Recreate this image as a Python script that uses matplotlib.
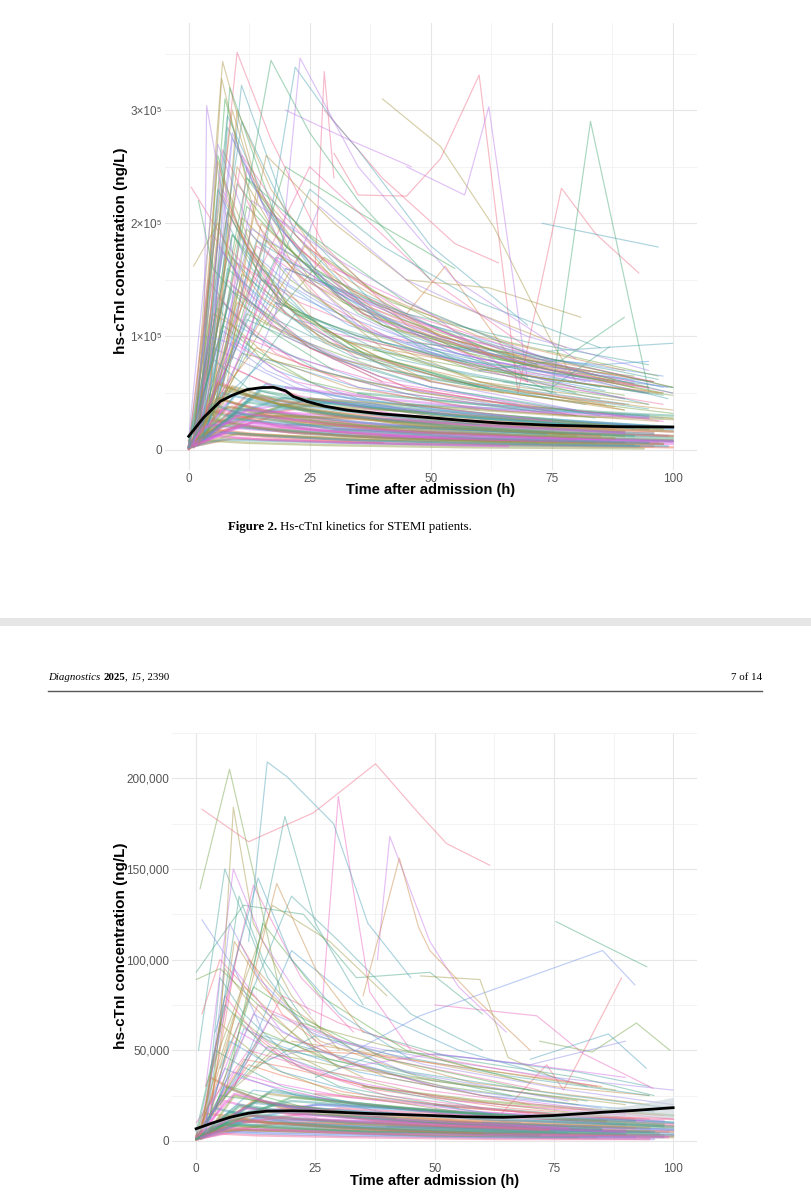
import numpy as np
import matplotlib.pyplot as plt
import seaborn as sns
from matplotlib import font_manager

# fonts: narrow sans if present, else regular
names = {f.name for f in font_manager.fontManager.ttflist}
sans = 'Liberation Sans Narrow' if 'Liberation Sans Narrow' in names else 'Liberation Sans'
serif = 'Liberation Serif'

# ---- STEMI (top) : values in thousands ng/L ----
stemi_outliers = [
    ([30, 35, 45, 52, 60, 68, 77, 84, 93], [262, 225, 224, 257, 331, 50, 231, 191, 156]),
    ([40, 52, 63, 75, 80], [310, 268, 197, 95, 60]),
    ([62, 75, 83, 95], [80, 50, 290, 52]),
    ([73, 97], [200, 179]),
    ([20, 33, 46], [300, 274, 250]),
    ([28, 40, 55, 64], [300, 240, 182, 165]),
    ([45, 62, 81], [150, 143, 117]),
    ([60, 77, 90], [70, 79, 117]),
    ([74, 100], [87, 94]),
    ([45, 57, 62, 70], [250, 225, 303, 60]),
]
stemi_peaks = [
    ([2, 10, 17, 28, 45, 70], [20, 351, 274, 180, 110, 60]),
    ([1, 7, 15, 25, 40, 60, 90], [15, 343, 220, 150, 95, 60, 35]),
    ([5, 17, 25, 35, 50], [60, 344, 280, 220, 150]),
    ([12, 22, 30, 35, 50, 70], [80, 338, 290, 265, 180, 110]),
    ([18, 23, 35, 55, 80], [120, 346, 250, 150, 80]),
    ([26, 28, 30], [150, 334, 240]),
    ([2, 6.8, 14, 25, 40, 60, 95], [10, 328, 200, 140, 90, 60, 40]),
    ([3, 8.5, 20, 35, 55, 80], [20, 320, 180, 120, 80, 50]),
    ([4, 10.9, 22, 40, 65, 95], [30, 322, 190, 110, 70, 40]),
    ([3, 3.7, 10], [20, 304, 150]),
    ([0.5, 8, 20], [232, 180, 120]),
    ([1, 6, 12, 25, 40], [162, 200, 130, 90, 60]),
    ([2, 5, 15, 30], [220, 160, 110, 70]),
    ([1, 8, 18, 30, 50, 75, 96], [8, 295, 200, 140, 95, 70, 60]),
    ([2, 9, 20, 35, 60, 90], [12, 280, 170, 110, 70, 45]),
    ([1, 7, 16, 28, 45, 70, 98], [5, 265, 185, 130, 90, 60, 40]),
    ([3, 10, 22, 40, 65, 95], [15, 250, 160, 110, 75, 55]),
    ([2, 12, 25, 45, 70, 100], [20, 240, 190, 130, 85, 55]),
    ([1, 6, 15, 30, 55, 85], [10, 230, 150, 100, 70, 45]),
    ([4, 13, 30, 50, 80], [25, 220, 170, 120, 70]),
    ([2, 8, 20, 35, 55, 90], [10, 210, 120, 85, 60, 40]),
    ([1, 11, 24, 40, 70, 97], [18, 205, 150, 110, 75, 50]),
    ([0, 9, 19, 33, 60], [6, 190, 130, 90, 55]),
    ([3, 14, 27, 46, 75, 99], [20, 185, 150, 105, 70, 45]),
    ([1, 7, 17, 32, 50, 80], [12, 175, 110, 80, 60, 35]),
    ([2, 10, 23, 40, 68, 96], [22, 165, 130, 100, 80, 60]),
    ([5, 16, 30, 48, 78], [30, 260, 200, 140, 90]),
    ([6, 20, 35, 55], [45, 250, 210, 160]),
    ([10, 25, 40, 60, 85], [70, 230, 180, 130, 90]),
    ([15, 27, 45, 70, 95], [90, 215, 150, 100, 70]),
    ([8, 25, 50, 70], [100, 250, 150, 90]),
    ([1, 9, 14, 30, 52, 88], [12, 300, 230, 150, 100, 62]),
    ([2, 7.5, 12, 26, 44, 72], [8, 310, 240, 160, 105, 72]),
    ([1, 11, 20, 38, 64, 92], [15, 290, 210, 130, 85, 58]),
    ([0, 6, 13, 24, 48, 82], [10, 270, 190, 140, 92, 60]),
]
stemi_more = [
    ([1, 5, 12, 25, 45, 80], [6, 190, 140, 90, 55, 30]),
    ([0, 7, 14, 28, 50, 90], [4, 240, 170, 105, 60, 35]),
    ([2, 6, 10, 20, 38, 65], [10, 260, 200, 130, 80, 50]),
    ([1, 8, 13, 24, 42, 75], [8, 200, 160, 110, 70, 45]),
    ([3, 9, 16, 30, 55, 95], [15, 275, 210, 140, 85, 50]),
    ([0, 4, 9, 18, 35, 60], [2, 150, 120, 85, 55, 35]),
    ([2, 7, 12, 22, 40, 70, 100], [12, 225, 180, 120, 80, 50, 35]),
    ([1, 10, 18, 32, 58, 92], [5, 235, 190, 130, 85, 55]),
    ([4, 8, 15, 27, 48, 85], [20, 285, 220, 150, 90, 55]),
    ([0, 6, 11, 21, 39, 68], [3, 180, 150, 100, 65, 40]),
    ([2, 11, 19, 34, 60], [14, 260, 210, 140, 90]),
    ([1, 5, 9, 17, 33, 62, 97], [7, 120, 110, 80, 55, 35, 25]),
    ([3, 12, 20, 36, 64, 98], [18, 215, 180, 120, 80, 50]),
    ([0, 9, 15, 26, 46, 82], [6, 170, 140, 100, 65, 40]),
    ([2, 13, 22, 38, 66, 99], [16, 195, 170, 120, 80, 55]),
    ([1, 6, 12, 23, 44, 78], [4, 135, 110, 75, 50, 30]),
    ([5, 10, 17, 29, 52, 88], [30, 300, 230, 160, 100, 60]),
    ([0, 7, 13, 25, 47], [3, 110, 90, 60, 38]),
    ([2, 8, 16, 31, 57, 91], [9, 160, 130, 90, 60, 40]),
    ([1, 4, 8, 16, 30, 55], [5, 100, 95, 70, 45, 30]),
    ([3, 14, 24, 42, 70, 100], [20, 180, 150, 110, 75, 50]),
    ([6, 15, 25, 40, 65, 95], [40, 200, 160, 115, 80, 55]),
    ([4, 11, 19, 33, 58, 90], [25, 155, 130, 95, 65, 45]),
    ([2, 9, 17, 30, 50, 80], [10, 145, 115, 80, 55, 35]),
    ([0, 5, 10, 22, 45, 85], [3, 90, 80, 55, 35, 20]),
    ([7, 12, 20, 35, 60, 92], [50, 250, 190, 130, 85, 60]),
    ([8, 14, 22, 38, 62, 96], [60, 230, 180, 125, 85, 60]),
    ([1, 16, 26, 44, 72], [10, 185, 160, 115, 75]),
    ([3, 18, 30, 50, 80, 100], [25, 170, 150, 110, 70, 50]),
    ([5, 20, 32, 52, 78], [35, 160, 140, 100, 70]),
    ([2, 7, 11, 19, 35], [8, 230, 190, 130, 80]),
    ([1, 6, 9, 15, 28, 50], [6, 255, 210, 150, 95, 60]),
    ([0, 8, 12, 20, 36, 62], [4, 210, 180, 130, 85, 55]),
    ([4, 9, 14, 24, 43, 76], [18, 190, 165, 120, 80, 50]),
    ([6, 13, 21, 37, 63, 94], [45, 175, 145, 105, 72, 50]),
    ([9, 17, 27, 45, 74], [80, 210, 170, 120, 80]),
    ([3, 10, 17, 31, 56, 88], [22, 130, 110, 80, 55, 38]),
    ([1, 12, 21, 39, 69, 100], [8, 120, 100, 72, 48, 32]),
    ([0, 9, 18, 34, 61, 95], [5, 140, 115, 82, 55, 36]),
    ([2, 15, 28, 50, 83], [12, 150, 125, 90, 60]),
    ([11, 20, 32, 55, 85], [90, 190, 140, 100, 65]),
    ([13, 24, 38, 60, 90], [100, 180, 140, 100, 70]),
    ([16, 28, 42, 66, 97], [110, 170, 130, 95, 65]),
    ([1, 7, 14, 27, 49, 84], [5, 130, 100, 70, 45, 28]),
    ([2, 10, 20, 37, 63, 98], [9, 110, 85, 60, 40, 28]),
    ([0, 11, 23, 43, 75], [4, 100, 80, 55, 35]),
    ([3, 8, 15, 29, 53, 86], [15, 175, 135, 95, 62, 40]),
    ([5, 12, 21, 36, 59, 90], [28, 195, 150, 105, 70, 48]),
    ([18, 35, 55, 80, 100], [130, 100, 80, 65, 55]),
    ([22, 40, 62, 88], [115, 95, 75, 60]),
    ([28, 48, 70, 95], [105, 85, 68, 55]),
    ([33, 52, 75, 98], [95, 80, 62, 50]),
    ([38, 58, 82, 100], [88, 72, 58, 48]),
]
stemi_mid = [
    ([20, 45, 70, 95], [160, 120, 95, 75]),
    ([25, 50, 75, 98], [150, 110, 80, 65]),
    ([30, 55, 80, 96], [140, 100, 75, 60]),
    ([35, 60, 85, 100], [125, 90, 70, 55]),
    ([50, 70, 92], [110, 75, 65]),
    ([45, 68, 88, 97], [95, 85, 70, 62]),
    ([55, 80, 98], [90, 72, 55]),
    ([30, 50, 66, 80], [160, 120, 70, 55]),
    ([45, 53, 70], [120, 162, 60]),
    ([22, 38, 55, 72], [200, 140, 105, 75]),
    ([65, 75, 87], [60, 55, 91]),
    ([60, 72, 85, 95], [95, 80, 75, 78]),
    ([1, 8, 20, 40, 70, 98], [5, 150, 100, 60, 40, 25]),
    ([2, 10, 25, 45, 80], [10, 140, 90, 55, 30]),
    ([1, 6, 15, 30, 55, 90], [3, 125, 80, 50, 35, 20]),
    ([3, 12, 28, 50, 85], [12, 115, 85, 55, 30]),
    ([0, 7, 18, 35, 60, 96], [8, 105, 70, 45, 30, 20]),
    ([2, 9, 22, 45, 75], [15, 95, 60, 40, 25]),
    ([1, 14, 30, 55, 90], [20, 90, 65, 45, 30]),
    ([4, 11, 26, 48, 78, 100], [18, 85, 70, 50, 35, 28]),
    ([0, 5, 12, 30, 60], [2, 80, 55, 35, 22]),
    ([2, 16, 35, 65, 95], [25, 80, 55, 38, 28]),
    ([1, 8, 20, 42, 70], [6, 75, 50, 32, 20]),
    ([3, 10, 24, 50, 88], [10, 70, 45, 30, 18]),
    ([5, 18, 38, 62, 95], [30, 130, 95, 70, 50]),
    ([8, 22, 44, 70, 98], [40, 120, 90, 65, 48]),
    ([4, 15, 33, 58, 86], [25, 160, 110, 75, 52]),
    ([6, 19, 36, 60, 92], [35, 175, 120, 80, 58]),
]
stemi_low = [
    ([0, 6, 15, 35, 70, 100], [3, 45, 35, 22, 12, 8]),
    ([1, 8, 20, 45, 80], [5, 55, 38, 22, 12]),
    ([0, 5, 12, 30, 60, 95], [2, 40, 30, 18, 10, 6]),
    ([2, 10, 25, 50, 90], [8, 50, 38, 25, 15]),
    ([0, 7, 18, 40, 75, 100], [4, 35, 28, 18, 10, 7]),
    ([1, 9, 22, 48, 85], [6, 30, 24, 15, 9]),
    ([0, 4, 14, 32, 65, 98], [1, 28, 20, 12, 7, 5]),
    ([3, 12, 28, 55, 92], [10, 42, 32, 20, 12]),
    ([0, 6, 16, 38, 72], [2, 25, 18, 11, 6]),
    ([1, 11, 26, 52, 88, 100], [4, 22, 17, 10, 6, 5]),
    ([0, 5, 13, 33, 62, 96], [1, 18, 14, 9, 5, 3]),
    ([2, 8, 20, 44, 80], [5, 38, 26, 16, 9]),
    ([0, 10, 24, 50, 90], [3, 20, 16, 10, 6]),
    ([1, 7, 17, 36, 70, 99], [4, 15, 12, 8, 5, 3]),
    ([0, 6, 15, 34, 66], [2, 12, 9, 6, 3]),
    ([1, 9, 21, 46, 84, 100], [3, 10, 8, 5, 3, 2]),
    ([0, 4, 12, 28, 58, 94], [1, 8, 6, 4, 2, 1]),
    ([2, 14, 30, 60, 95], [6, 48, 40, 28, 18]),
    ([4, 16, 34, 64, 98], [12, 58, 45, 30, 20]),
    ([1, 12, 30, 58, 90], [5, 35, 30, 22, 15]),
    ([0, 18, 40, 70, 100], [8, 30, 26, 18, 12]),
    ([3, 20, 45, 75, 98], [14, 40, 34, 25, 18]),
    ([5, 25, 50, 80, 100], [20, 45, 35, 25, 20]),
    ([10, 30, 55, 85, 100], [30, 42, 30, 22, 18]),
    ([0, 3, 10, 25, 50, 80], [1, 20, 25, 18, 12, 8]),
    ([1, 6, 14, 30, 55, 85], [2, 60, 45, 30, 20, 12]),
    ([0, 8, 19, 42, 78], [3, 52, 40, 25, 14]),
    ([2, 5, 11, 27, 53, 90], [4, 33, 27, 17, 10, 6]),
    ([0, 9, 23, 47, 82, 100], [2, 27, 22, 14, 9, 7]),
    ([1, 13, 29, 54, 87], [3, 24, 19, 13, 8]),
    ([6, 22, 42, 70, 96], [25, 36, 28, 20, 15]),
    ([15, 35, 60, 90], [30, 28, 22, 16]),
    ([20, 45, 75, 100], [22, 20, 15, 12]),
    ([30, 55, 85, 100], [18, 15, 10, 8]),
    ([40, 65, 95], [12, 10, 7]),
    ([0, 2, 8, 20, 40], [0, 10, 14, 10, 6]),
    ([25, 50, 78, 100], [45, 38, 30, 27]),
    ([35, 60, 90, 100], [50, 40, 32, 30]),
    ([45, 70, 95], [40, 35, 30]),
    ([20, 40, 65, 95], [55, 45, 35, 28]),
    ([0, 3, 9, 22, 45, 80, 100], [2, 30, 38, 26, 16, 10, 8]),
    ([1, 6, 13, 28, 52, 88], [3, 46, 36, 24, 15, 10]),
    ([0, 5, 11, 24, 48, 84], [1, 22, 20, 14, 9, 6]),
    ([2, 7, 15, 32, 60, 96], [6, 50, 42, 30, 20, 14]),
    ([0, 8, 17, 35, 64, 99], [2, 42, 34, 24, 16, 12]),
    ([1, 4, 10, 21, 42, 76], [4, 26, 22, 15, 10, 7]),
    ([3, 9, 18, 37, 68, 100], [10, 56, 44, 32, 22, 16]),
    ([0, 6, 14, 30, 57, 92], [1, 16, 13, 9, 6, 4]),
    ([2, 11, 22, 43, 74], [5, 36, 30, 21, 14]),
    ([1, 7, 16, 34, 62, 97], [2, 20, 17, 12, 8, 6]),
    ([4, 12, 24, 46, 78, 100], [14, 48, 40, 29, 20, 16]),
    ([0, 10, 20, 40, 72, 98], [3, 14, 12, 9, 6, 5]),
    ([5, 15, 28, 52, 86], [22, 52, 42, 30, 20]),
    ([8, 20, 36, 60, 92], [30, 46, 38, 28, 19]),
    ([12, 26, 44, 70, 98], [35, 44, 36, 27, 20]),
    ([0, 4, 10, 19, 38, 70], [1, 35, 30, 20, 13, 8]),
    ([2, 6, 12, 26, 50, 90], [5, 58, 48, 32, 20, 12]),
    ([1, 10, 19, 39, 70, 100], [5, 32, 28, 20, 14, 10]),
    ([0, 7, 15, 31, 58, 93], [2, 9, 8, 6, 4, 3]),
    ([3, 14, 27, 50, 83], [8, 30, 26, 19, 13]),
]
stemi_smooth_t = [0, 3, 6.5, 9, 12, 15, 17.5, 20, 21.6, 24.4, 28, 32.6, 40, 47.8, 56, 64.3, 75, 88, 100]
stemi_smooth_v = [11.8, 28, 42.6, 48, 53, 54.8, 55, 52, 47, 42.6, 38.5, 35, 31.5, 29, 26, 23.5, 21.5, 20.3, 20]

# ---- bottom panel ----
nstemi_outliers = [
    ([1.2, 11, 24.6, 37.6, 46.9, 52.5, 61.6], [183, 165, 181, 208, 180, 164, 152]),
    ([0.8, 7, 12.7, 17.6, 25], [139, 205, 140, 82, 50]),
    ([11, 14.9, 19, 28.8, 36, 45], [110, 209, 201, 175, 120, 90]),
    ([26, 29.8, 36.4, 45], [60, 190, 82, 50]),
    ([5, 7.8, 12, 20, 30], [60, 184, 120, 80, 50]),
    ([12, 18.6, 25, 35], [95, 179, 120, 75]),
    ([38, 40.6, 49, 55, 65], [100, 168, 110, 85, 60]),
    ([35, 42.6, 46.6, 49, 58, 70], [80, 156, 118, 105, 80, 50]),
    ([75.4, 94.5], [121, 96]),
    ([30, 46.9, 85.2, 92], [45, 69, 105, 86]),
    ([64, 73.5, 77, 89.2], [15, 42, 28, 90]),
    ([72, 83, 92.3, 99.3], [55, 49, 65, 50]),
    ([70, 86.4, 94.4], [45, 59, 40]),
    ([50, 71.4, 81.2, 95.8], [75, 69, 48, 29]),
    ([47, 59.5, 65.4, 75], [91, 89, 46, 35]),
]
nstemi_peaks = [
    ([0.5, 6, 15, 25], [50, 150, 90, 55]),
    ([2, 7.8, 14, 24], [30, 150, 110, 70]),
    ([10, 16.9, 25, 35], [70, 142, 95, 60]),
    ([0, 9.9, 22.5, 33.6, 49, 60], [93, 130, 125, 90, 93, 70]),
    ([1.2, 8, 14], [122, 95, 60]),
    ([1.2, 5, 12], [70, 100, 80]),
    ([0, 5, 15, 30], [89, 95, 70, 40]),
    ([4, 13, 20, 30, 45], [60, 145, 100, 70, 45]),
    ([3, 12, 22, 33], [40, 141, 90, 60]),
    ([2, 16, 28, 40], [30, 130, 110, 80]),
    ([5, 20, 30, 45, 60], [40, 135, 110, 70, 50]),
    ([1, 8, 18, 35, 60, 90], [10, 95, 60, 40, 25, 15]),
    ([2, 10, 22, 40, 70], [15, 85, 55, 35, 20]),
    ([0, 6, 15, 30, 55], [5, 75, 50, 30, 18]),
    ([3, 12, 25, 50, 85], [12, 70, 50, 30, 18]),
    ([1, 9, 20, 38, 66, 95], [8, 65, 42, 28, 18, 12]),
    ([4, 14, 28, 52, 80], [18, 60, 45, 30, 20]),
    ([2, 7, 18, 36, 62], [6, 55, 38, 25, 15]),
    ([0, 11, 24, 48, 78, 100], [10, 50, 40, 28, 18, 12]),
    ([5, 16, 32, 58, 90], [22, 48, 40, 30, 20]),
    ([25, 40, 60, 80, 95], [35, 50, 45, 38, 30]),
    ([30, 50, 70, 90], [40, 48, 42, 35]),
    ([20, 45, 75, 95], [55, 45, 30, 25]),
    ([35, 55, 80, 96], [60, 45, 35, 25]),
    ([50, 70, 90], [48, 42, 55]),
    ([3, 9, 18, 30, 50], [20, 110, 70, 45, 30]),
    ([6, 14, 26, 44, 70], [25, 120, 80, 50, 32]),
    ([8, 20, 34, 55, 82], [30, 105, 75, 50, 30]),
]
nstemi_more = [
    ([1, 6, 12, 22, 40, 70], [5, 80, 60, 40, 25, 15]),
    ([0, 8, 15, 28, 50, 85], [3, 70, 55, 38, 24, 14]),
    ([2, 5, 10, 20, 36, 60], [10, 90, 70, 45, 30, 18]),
    ([1, 9, 17, 30, 55, 90], [6, 60, 48, 34, 22, 14]),
    ([3, 11, 19, 33, 58, 95], [14, 100, 75, 50, 32, 20]),
    ([0, 4, 9, 18, 34, 62], [2, 50, 42, 30, 20, 12]),
    ([2, 7, 13, 24, 44, 78], [8, 120, 90, 60, 38, 22]),
    ([1, 10, 20, 36, 64, 98], [5, 45, 40, 30, 20, 14]),
    ([4, 12, 22, 40, 70], [18, 85, 68, 45, 28]),
    ([0, 6, 11, 21, 39, 68], [3, 40, 34, 25, 16, 10]),
    ([2, 13, 24, 42, 72], [12, 75, 62, 44, 28]),
    ([1, 5, 9, 16, 30, 55], [4, 65, 55, 40, 26, 16]),
    ([5, 14, 25, 45, 75, 100], [20, 58, 50, 38, 26, 18]),
    ([0, 9, 16, 29, 52, 86], [4, 35, 30, 22, 15, 10]),
    ([3, 8, 14, 26, 47, 80], [15, 110, 85, 55, 35, 22]),
    ([1, 15, 28, 50, 82], [8, 52, 45, 33, 22]),
    ([6, 16, 27, 48, 78, 100], [25, 70, 58, 42, 28, 20]),
    ([2, 11, 18, 31, 56, 92], [9, 42, 36, 27, 18, 12]),
    ([0, 7, 12, 22, 42], [2, 30, 26, 19, 12]),
    ([4, 10, 18, 34, 60, 96], [16, 62, 52, 38, 25, 16]),
    ([8, 18, 30, 52, 84], [30, 80, 65, 45, 30]),
    ([10, 22, 36, 58, 88], [35, 65, 55, 40, 28]),
    ([12, 25, 40, 65, 95], [40, 58, 48, 36, 25]),
    ([1, 8, 16, 32, 60, 94], [5, 38, 32, 24, 16, 11]),
    ([3, 6, 10, 19, 35], [12, 95, 80, 55, 35]),
    ([2, 9, 14, 23, 40, 66], [7, 135, 100, 65, 40, 25]),
    ([15, 30, 50, 75, 100], [45, 55, 45, 35, 28]),
    ([18, 35, 58, 85], [50, 48, 40, 30]),
    ([0, 5, 13, 27, 50, 85], [1, 25, 22, 16, 11, 7]),
    ([1, 12, 25, 47, 80], [3, 28, 24, 17, 11]),
]
nstemi_low = [
    ([0, 5, 14, 30, 60, 100], [2, 12, 10, 7, 4, 3]),
    ([1, 8, 18, 40, 75], [3, 15, 12, 8, 5]),
    ([0, 6, 15, 35, 70, 98], [1, 10, 8, 5, 3, 2]),
    ([2, 10, 25, 50, 90], [4, 18, 14, 9, 5]),
    ([0, 7, 20, 45, 80, 100], [2, 8, 7, 5, 3, 2]),
    ([1, 9, 22, 48, 85], [3, 20, 15, 10, 6]),
    ([0, 4, 12, 30, 62, 96], [1, 6, 5, 4, 2, 1]),
    ([3, 12, 28, 55, 92], [5, 22, 17, 11, 7]),
    ([0, 6, 16, 38, 72], [1, 9, 7, 5, 3]),
    ([1, 11, 26, 52, 88, 100], [2, 14, 11, 8, 5, 4]),
    ([0, 5, 13, 33, 64, 95], [0.5, 4, 3, 2, 1, 1]),
    ([2, 8, 20, 44, 80], [3, 25, 18, 11, 6]),
    ([0, 10, 24, 50, 90], [1, 11, 9, 7, 4]),
    ([1, 7, 17, 36, 70, 99], [2, 7, 6, 4, 3, 2]),
    ([0, 14, 32, 60, 95], [2, 16, 14, 10, 7]),
    ([4, 16, 34, 64, 98], [6, 28, 20, 13, 8]),
    ([1, 12, 30, 58, 90], [2, 12, 11, 9, 6]),
    ([0, 18, 40, 70, 100], [3, 10, 9, 7, 5]),
    ([3, 20, 45, 75, 98], [6, 24, 18, 12, 9]),
    ([5, 25, 50, 80, 100], [8, 20, 16, 12, 10]),
    ([10, 30, 55, 85, 100], [10, 18, 14, 11, 9]),
    ([0, 3, 10, 25, 50, 80], [1, 5, 6, 5, 3, 2]),
    ([1, 6, 14, 30, 55, 85], [2, 30, 22, 14, 9, 6]),
    ([0, 8, 19, 42, 78], [2, 26, 19, 12, 7]),
    ([2, 5, 11, 27, 53, 90], [3, 13, 11, 8, 5, 3]),
    ([0, 9, 23, 47, 82, 100], [1, 9, 8, 6, 4, 3]),
    ([20, 45, 75, 100], [12, 10, 8, 6]),
    ([30, 55, 85, 100], [15, 12, 9, 8]),
    ([40, 65, 95], [8, 6, 5]),
    ([15, 35, 60, 90], [20, 16, 12, 9]),
    ([25, 50, 78, 100], [26, 20, 14, 12]),
    ([35, 60, 90, 100], [30, 22, 16, 14]),
    ([0, 4, 9, 20, 42, 78], [1, 18, 15, 10, 6, 4]),
    ([1, 6, 12, 26, 50, 88], [2, 22, 18, 12, 8, 5]),
    ([0, 5, 11, 24, 48, 84], [1, 7, 6, 5, 3, 2]),
    ([2, 7, 15, 32, 60, 96], [3, 16, 14, 10, 7, 5]),
    ([0, 8, 17, 35, 64, 99], [1, 12, 11, 8, 6, 5]),
    ([1, 3, 8, 18, 38, 72], [2, 35, 28, 18, 11, 7]),
    ([3, 9, 18, 37, 68, 100], [5, 19, 16, 12, 9, 7]),
    ([0, 6, 14, 30, 57, 92], [1, 5, 4, 3, 2, 2]),
    ([2, 11, 22, 43, 74], [3, 14, 12, 9, 6]),
    ([1, 7, 16, 34, 62, 97], [1, 11, 10, 7, 5, 4]),
    ([4, 12, 24, 46, 78, 100], [7, 21, 18, 14, 10, 8]),
    ([0, 10, 20, 40, 72, 98], [1, 6, 6, 5, 4, 3]),
    ([5, 15, 28, 52, 86], [10, 26, 22, 16, 11]),
    ([8, 20, 36, 60, 92], [14, 22, 19, 15, 11]),
    ([12, 26, 44, 70, 98], [16, 20, 18, 14, 11]),
    ([0, 2, 6, 15, 32, 60], [0.5, 15, 14, 10, 7, 4]),
    ([50, 70, 90, 100], [20, 16, 12, 10]),
    ([60, 80, 100], [10, 8, 6]),
]
nstemi_smooth_t = [0, 3, 7.1, 11, 14.8, 20, 24.6, 35, 49, 56, 64.4, 75, 85.3, 92, 99.3, 100]
nstemi_smooth_v = [6.7, 9.5, 13, 15.3, 16.4, 16.6, 16.4, 15.2, 14, 13.3, 13, 14, 15.8, 16.8, 18.2, 18.3]
nstemi_se = [1.5, 1.2, 1, 1, 1, 1, 1, 1, 1, 1, 1.2, 1.5, 2.2, 3.2, 5.5, 5.7]

W, H = 811, 1200
fig = plt.figure(figsize=(W / 100, H / 100), dpi=100)


def px_axes(x0, y0, x1, y1):
    return fig.add_axes([x0 / W, 1 - y1 / H, (x1 - x0) / W, (y1 - y0) / H])


def spaghetti(ax, thin, low, smooth_t, smooth_v, se=None):
    allines = [(0, ln) for ln in thin] + [(1, ln) for ln in low]
    n = len(allines)
    pal = sns.husl_palette(n, s=0.8, l=0.62)
    order = sorted(range(n), key=lambda i: (i * 7919) % 101)  # mix groups in drawing order
    for k in order:
        g, (t, v) = allines[k]
        c = pal[(k * 37) % n]
        lw = 1.7 if g == 1 else 0.85
        ax.plot(t, np.array(v) * 1000, color=c, lw=lw, alpha=0.45, solid_capstyle='round')
    st = np.array(smooth_t)
    sv = np.array(smooth_v) * 1000
    if se is not None:
        s = np.array(se) * 1000
        ax.fill_between(st, sv - s, sv + s, color='#c8d2d8', alpha=0.6, lw=0, zorder=5)
    ax.plot(st, sv, color='black', lw=2.0, zorder=6)


def style(ax, ylim, yticks, ylabels):
    ax.set_xlim(-5, 105)
    ax.set_ylim(*ylim)
    ax.set_xticks([0, 25, 50, 75, 100])
    ax.set_xticks([12.5, 37.5, 62.5, 87.5], minor=True)
    step = yticks[1] - yticks[0]
    ax.set_yticks(yticks)
    ax.set_yticks([y + step / 2 for y in yticks], minor=True)
    ax.set_yticklabels(ylabels)
    ax.grid(which='major', color='#e6e6e6', lw=0.8)
    ax.grid(which='minor', color='#f1f1f1', lw=0.6)
    ax.set_axisbelow(True)
    for sp in ax.spines.values():
        sp.set_visible(False)
    ax.tick_params(which='both', length=0, colors='#555555', labelsize=8.5, pad=2)
    for lab in ax.get_xticklabels() + ax.get_yticklabels():
        lab.set_family(sans)


# top panel
ax1 = px_axes(164.5, 23, 697, 470)
spaghetti(ax1, stemi_outliers + stemi_peaks + stemi_more + stemi_mid, stemi_low,
          stemi_smooth_t, stemi_smooth_v)
style(ax1, (-18000, 377000), [0, 100000, 200000, 300000], ['0', '1×10⁵', '2×10⁵', '3×10⁵'])

# bottom panel
ax2 = px_axes(172.3, 733, 697, 1160)
spaghetti(ax2, nstemi_outliers + nstemi_peaks + nstemi_more, nstemi_low,
          nstemi_smooth_t, nstemi_smooth_v, nstemi_se)
style(ax2, (-10550, 222000), [0, 50000, 100000, 150000, 200000],
      ['0', '50,000', '100,000', '150,000', '200,000'])

lab = dict(family=sans, fontweight='bold', color='black')
fig.text(430.7 / W, 1 - 490 / H, 'Time after admission (h)', ha='center', va='center', fontsize=10.5, **lab)
fig.text(121 / W, 1 - 251 / H, 'hs-cTnI concentration (ng/L)', rotation=90, ha='center', va='center', fontsize=11, **lab)
fig.text(434.6 / W, 1 - 1181 / H, 'Time after admission (h)', ha='center', va='center', fontsize=10.5, **lab)
fig.text(121 / W, 1 - 946 / H, 'hs-cTnI concentration (ng/L)', rotation=90, ha='center', va='center', fontsize=11, **lab)

# caption
cap_y = 1 - 527 / H
t1 = fig.text(228 / W, cap_y, 'Figure 2.', family=serif, fontweight='bold', fontsize=9.3, va='center')
fig.canvas.draw()
bb = t1.get_window_extent()
fig.text((bb.x1 + 3) / W, cap_y, 'Hs-cTnI kinetics for STEMI patients.', family=serif, fontsize=9.3, va='center')

# page break band
fig.patches.append(plt.Rectangle((0, 1 - 626 / H), 1, 8 / H, transform=fig.transFigure,
                                 color='#e6e6e6', lw=0))

# header of next page
hy = 1 - 677 / H
hs = 7.8
h1 = fig.text(48 / W, hy, 'Diagnostics', family=serif, style='italic', fontsize=hs, va='center')
fig.canvas.draw()
x = h1.get_window_extent().x1 + 3
h2 = fig.text(x / W, hy, '2025', family=serif, fontweight='bold', fontsize=hs, va='center')
fig.canvas.draw()
x = h2.get_window_extent().x1
h3 = fig.text(x / W, hy, ', ', family=serif, fontsize=hs, va='center')
fig.canvas.draw()
x = h3.get_window_extent().x1
h4 = fig.text(x / W, hy, '15', family=serif, style='italic', fontsize=hs, va='center')
fig.canvas.draw()
x = h4.get_window_extent().x1
fig.text(x / W, hy, ', 2390', family=serif, fontsize=hs, va='center')
fig.text(762 / W, hy, '7 of 14', family=serif, fontsize=hs, va='center', ha='right')
fig.add_artist(plt.Line2D([48 / W, 762 / W], [1 - 691 / H] * 2, color='#555555', lw=1.0))

fig.savefig('out.png', dpi=100)
